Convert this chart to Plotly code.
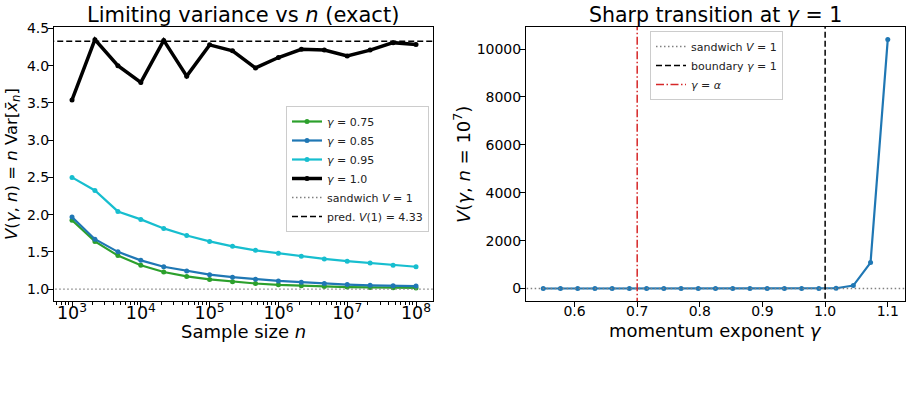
import plotly.graph_objects as go

# ---------------- data ----------------
n_exp = [3.0, 3.333, 3.667, 4.0, 4.333, 4.667, 5.0, 5.333, 5.667, 6.0, 6.333, 6.667, 7.0, 7.333, 7.667, 8.0]
n_vals = [10 ** e for e in n_exp]

v_g075 = [1.925, 1.64, 1.45, 1.32, 1.23, 1.17, 1.13, 1.10, 1.075, 1.057, 1.045, 1.035, 1.027, 1.022, 1.018, 1.015]
v_g085 = [1.967, 1.67, 1.50, 1.386, 1.30, 1.243, 1.194, 1.16, 1.133, 1.11, 1.093, 1.075, 1.06, 1.05, 1.045, 1.04]
v_g095 = [2.50, 2.324, 2.043, 1.936, 1.815, 1.72, 1.64, 1.574, 1.52, 1.48, 1.44, 1.405, 1.375, 1.35, 1.32, 1.30]
v_g100 = [3.54, 4.35, 4.00, 3.776, 4.34, 3.86, 4.28, 4.20, 3.97, 4.11, 4.22, 4.21, 4.13, 4.21, 4.31, 4.285]

gammas = [0.55, 0.5775, 0.605, 0.6325, 0.66, 0.6875, 0.715, 0.7425, 0.77, 0.7975, 0.825,
          0.8525, 0.88, 0.9075, 0.935, 0.9625, 0.99, 1.0175, 1.045, 1.0725, 1.1]
v_at_1e7 = [1.0, 1.0, 1.0, 1.0, 1.0, 1.0, 1.0, 1.01, 1.02, 1.03, 1.05,
            1.07, 1.10, 1.15, 1.22, 1.45, 2.5, 12.0, 125.0, 1085.0, 10400.0]

SANDWICH_V = 1.0
PRED_V1 = 4.33
GAMMA_ALPHA = 0.7
GAMMA_BOUNDARY = 1.0

FONT = "DejaVu Sans"
W, H = 912, 393

def px_x(p):
    return p / W

def px_y(p):
    return 1 - p / H

fig = go.Figure()

series = [
    (v_g075, "#2ca02c", "<i>γ</i> = 0.75", 2.2, 5),
    (v_g085, "#1f77b4", "<i>γ</i> = 0.85", 2.2, 5),
    (v_g095, "#17becf", "<i>γ</i> = 0.95", 2.2, 5),
    (v_g100, "black", "<i>γ</i> = 1.0", 3.5, 5),
]
for i, (vals, col, name, lw, ms) in enumerate(series):
    fig.add_trace(go.Scatter(
        x=n_vals, y=vals, mode="lines+markers", name=name,
        line=dict(color=col, width=lw), marker=dict(color=col, size=ms),
        xaxis="x", yaxis="y", legend="legend", legendrank=10 + i,
    ))

# reference lines in the left panel
fig.add_trace(go.Scatter(
    x=[10 ** 2, 10 ** 9], y=[SANDWICH_V, SANDWICH_V], mode="lines",
    name="sandwich <i>V</i> = 1", line=dict(color="gray", width=1.3, dash="1.5px,2.5px"),
    xaxis="x", yaxis="y", legend="legend", legendrank=20, hoverinfo="skip"))
fig.add_trace(go.Scatter(
    x=[10 ** 2, 10 ** 9], y=[PRED_V1, PRED_V1], mode="lines",
    name="pred. <i>V</i>(1) = 4.33", line=dict(color="black", width=1.5, dash="6px,3px"),
    xaxis="x", yaxis="y", legend="legend", legendrank=21, hoverinfo="skip"))

# right panel
fig.add_trace(go.Scatter(
    x=gammas, y=v_at_1e7, mode="lines+markers", name="V(γ)",
    line=dict(color="#1f77b4", width=2.2), marker=dict(color="#1f77b4", size=5),
    xaxis="x2", yaxis="y2", showlegend=False))
fig.add_trace(go.Scatter(
    x=[0, 2], y=[SANDWICH_V, SANDWICH_V], mode="lines",
    name="sandwich <i>V</i> = 1", line=dict(color="gray", width=1.3, dash="1.5px,2.5px"),
    xaxis="x2", yaxis="y2", legend="legend2", legendrank=30, hoverinfo="skip"))
fig.add_trace(go.Scatter(
    x=[GAMMA_BOUNDARY, GAMMA_BOUNDARY], y=[-1e5, 1e5], mode="lines",
    name="boundary <i>γ</i> = 1", line=dict(color="black", width=1.5, dash="6px,3px"),
    xaxis="x2", yaxis="y2", legend="legend2", legendrank=31, hoverinfo="skip"))
fig.add_trace(go.Scatter(
    x=[GAMMA_ALPHA, GAMMA_ALPHA], y=[-1e5, 1e5], mode="lines",
    name="<i>γ</i> = <i>α</i>", line=dict(color="#d62728", width=1.5, dash="8px,2.5px,1.5px,2.5px"),
    xaxis="x2", yaxis="y2", legend="legend2", legendrank=32, hoverinfo="skip"))

axis_common = dict(
    showgrid=False, zeroline=False, showline=True, linecolor="black", linewidth=1,
    mirror=True, ticks="outside", ticklen=5, tickwidth=1, tickcolor="black",
    tickfont=dict(family=FONT, size=14, color="black"), automargin=False,
)
xtick_shift = -8
ytick_shift = -4

fig.update_layout(
    width=W, height=H, margin=dict(l=0, r=0, t=0, b=0),
    paper_bgcolor="white", plot_bgcolor="white",
    font=dict(family=FONT, color="black"),
    xaxis=dict(axis_common, domain=[px_x(54), px_x(433)], type="log",
               range=[2.738, 8.247], dtick=1, exponentformat="power",
               ticklabelstandoff=xtick_shift,
               minor=dict(ticks="outside", ticklen=2.5, tickcolor="black", tickwidth=0.8,
                          showgrid=False),
               anchor="y"),
    yaxis=dict(axis_common, domain=[px_y(301), px_y(27)], range=[0.84, 4.52],
               dtick=0.5, tick0=0, tickformat=".1f", ticklabelstandoff=ytick_shift, anchor="x"),
    xaxis2=dict(axis_common, domain=[px_x(526), px_x(905)], range=[0.5225, 1.1275],
                dtick=0.1, tick0=0, tickformat=".1f", ticklabelstandoff=xtick_shift, anchor="y2"),
    yaxis2=dict(axis_common, domain=[px_y(301), px_y(27)], range=[-520, 10920],
                dtick=2000, tick0=0, tickformat="d", ticklabelstandoff=ytick_shift, anchor="x2"),
    legend=dict(x=px_x(286), y=px_y(106), xanchor="left", yanchor="top",
                bgcolor="rgba(255,255,255,0.8)", bordercolor="#cccccc", borderwidth=1,
                font=dict(family=FONT, size=11, color="#222"), tracegroupgap=0,
                itemwidth=30),
    legend2=dict(x=px_x(650), y=px_y(31), xanchor="left", yanchor="top",
                 bgcolor="rgba(255,255,255,0.8)", bordercolor="#cccccc", borderwidth=1,
                 font=dict(family=FONT, size=11, color="#222"), tracegroupgap=0,
                 itemwidth=30),
    showlegend=True,
)

annots = [
    dict(text="Limiting variance vs <i>n</i> (exact)", x=px_x(243.5), y=px_y(15), size=21, angle=0),
    dict(text="Sharp transition at <i>γ</i> = 1", x=px_x(715.5), y=px_y(15), size=20.5, angle=0),
    dict(text="Sample size <i>n</i>", x=px_x(243.5), y=px_y(331), size=18, angle=0),
    dict(text="momentum exponent <i>γ</i>", x=px_x(715.5), y=px_y(330), size=18, angle=0),
    dict(text="<i>V</i>(<i>γ</i>, <i>n</i>) = <i>n</i> Var[<i>x̄</i><sub><i>n</i></sub>]",
         x=px_x(13), y=px_y(164), size=16.5, angle=-90),
    dict(text="<i>V</i>(<i>γ</i>, <i>n</i> = 10<sup>7</sup>)",
         x=px_x(462), y=px_y(164), size=18, angle=-90),
]
for a in annots:
    fig.add_annotation(text=a["text"], x=a["x"], y=a["y"], xref="paper", yref="paper",
                       xanchor="center", yanchor="middle", showarrow=False,
                       textangle=a["angle"], font=dict(family=FONT, size=a["size"], color="black"))

fig.write_html("out.html")
